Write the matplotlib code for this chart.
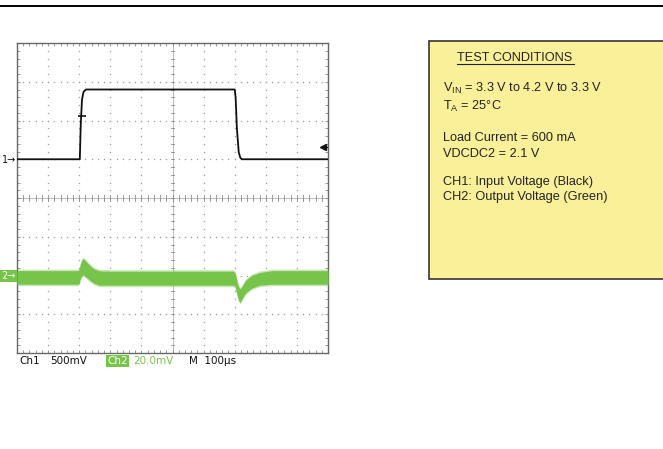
import matplotlib
matplotlib.use("Agg")
import matplotlib.pyplot as plt
from matplotlib.patches import Rectangle
from matplotlib.lines import Line2D
import numpy as np

plt.rcParams['mathtext.fontset'] = 'custom'
plt.rcParams['mathtext.rm'] = 'Liberation Sans'
plt.rcParams['mathtext.it'] = 'Liberation Sans'

# ---------------- data ----------------
# CH1: input voltage step (time in µs, volts)
ch1_time = [0, 202, 205, 209, 214, 222, 700, 703, 707, 713, 718, 723, 1000]
ch1_volt = [3.3, 3.3, 3.75, 4.07, 4.17, 4.2, 4.2, 4.1, 3.7, 3.39, 3.32, 3.3, 3.3]

# CH2: output voltage ripple envelope (time in µs, mV relative to CH2 marker)
ch2_time  = [0, 195, 200, 203, 207, 211, 215, 220, 228, 238, 250, 265, 300,
             695, 701, 706, 712, 717, 722, 735, 755, 780, 820, 1000]
ch2_upper = [2.5, 2.5, 3.0, 5.5, 7.5, 8.5, 8.4, 7.6, 6.2, 4.6, 3.2, 2.4, 2.2,
             2.2, 1.5, -2.0, -5.5, -7.0, -6.0, -2.5, 0.0, 1.5, 2.5, 2.5]
ch2_lower = [-4.5, -4.5, -4.0, -2.0, -0.5, 0.3, 0.2, -0.5, -1.6, -3.0, -4.2, -5.0, -5.0,
             -5.0, -5.5, -9.0, -12.5, -14.0, -12.5, -9.0, -6.5, -5.0, -4.5, -4.5]

# scope settings
ch1_scale = 0.5      # V/div
ch1_offset_v = 3.3   # volts at CH1 marker
ch1_marker_div = 1.0
ch2_scale = 20.0     # mV/div
ch2_marker_div = -2.0
time_per_div = 100   # µs/div
trigger_level_div = 1.32
trigger_time = 209

conditions = [
    r'V$_{\mathrm{IN}}$ = 3.3 V to 4.2 V to 3.3 V',
    r'T$_{\mathrm{A}}$ = 25°C',
    'Load Current = 600 mA',
    'VDCDC2 = 2.1 V',
    'CH1: Input Voltage (Black)',
    'CH2: Output Voltage (Green)',
]

GREEN = '#76c44a'
W, H = 663, 449

fig = plt.figure(figsize=(W / 100, H / 100), dpi=100)
fig.patch.set_facecolor('white')

def fx(px):
    return px / W

def fy(py):
    return 1 - py / H

# header line
fig.add_artist(Line2D([0, 1], [fy(6), fy(6)], color='black', lw=1.4, transform=fig.transFigure))

# ---------------- scope axes ----------------
L, T, R, B = 17, 43, 328, 353
ax = fig.add_axes([fx(L), fy(B), (R - L) / W, (B - T) / H])
ax.set_xlim(0, 10 * time_per_div)
ax.set_ylim(-4, 4)
for s in ax.spines.values():
    s.set_color('#666666')
    s.set_linewidth(1.0)

ax.set_xticks(np.arange(0, 1001, 20))
ax.set_yticks(np.arange(-4, 4.01, 0.2))
ax.tick_params(direction='in', length=2.5, width=0.6, colors='#888888',
               top=True, right=True, labelbottom=False, labelleft=False)

# grid dots
dot_kw = dict(ls='none', marker='s', ms=0.9, color='#9a9a9a', mec='none', zorder=1)
ys = np.arange(-4, 4.01, 0.2)
for gx in range(100, 1000, 100):
    if gx == 500:
        continue
    ax.plot(np.full_like(ys, gx), ys, **dot_kw)
xs = np.arange(0, 1001, 20)
for gy in range(-3, 4):
    if gy == 0:
        continue
    ax.plot(xs, np.full_like(xs, gy, dtype=float), **dot_kw)

# center lines with ticks
ax.axhline(0, color='#b0b0b0', lw=0.6, zorder=1)
ax.axvline(500, color='#b0b0b0', lw=0.6, zorder=1)
for tx in xs:
    ax.plot([tx, tx], [-0.09, 0.09], color='#888888', lw=0.6, zorder=1)
for ty in ys:
    ax.plot([494, 506], [ty, ty], color='#888888', lw=0.6, zorder=1)

# CH2 trace (green band)
c2t = np.array(ch2_time, dtype=float)
up = ch2_marker_div + np.array(ch2_upper) / ch2_scale
lo = ch2_marker_div + np.array(ch2_lower) / ch2_scale
ax.fill_between(c2t, lo - 0.04, up + 0.04, color=GREEN, alpha=0.4, lw=0, zorder=3)
ax.fill_between(c2t, lo, up, color=GREEN, lw=0, zorder=3)

# CH1 trace
c1 = ch1_marker_div + (np.array(ch1_volt) - ch1_offset_v) / ch1_scale
ax.plot(ch1_time, c1, color='#111111', lw=1.3, zorder=4)

# trigger markers
ax.plot([trigger_time], [2.12], marker='_', ms=6, mew=1.2, color='#111111', zorder=5)
ax.plot([985], [trigger_level_div], marker='<', ms=4, color='#111111', zorder=5)
ax.plot([985, 1000], [trigger_level_div, trigger_level_div], color='#111111', lw=0.8, zorder=5)

# channel markers on the left
fig.text(fx(16), fy(160), '1→', ha='right', va='center', fontsize=7, color='#111111',
         family='DejaVu Sans')
fig.text(fx(16), fy(276), '2→', ha='right', va='center', fontsize=7, color='white',
         family='DejaVu Sans',
         bbox=dict(boxstyle='square,pad=0.12', fc=GREEN, ec='none'))

# bottom readout
ro_y = fy(361)
fig.text(fx(19), ro_y, 'Ch1', ha='left', va='center', fontsize=7.5, color='#111111')
fig.text(fx(50), ro_y, '500mV', ha='left', va='center', fontsize=7.5, color='#111111')
fig.text(fx(107), ro_y, 'Ch2', ha='left', va='center', fontsize=7.5, color='white',
         bbox=dict(boxstyle='square,pad=0.1', fc=GREEN, ec='none'))
fig.text(fx(133), ro_y, '20.0mV', ha='left', va='center', fontsize=7.5, color=GREEN)
fig.text(fx(189), ro_y, 'M  100µs', ha='left', va='center', fontsize=7.5, color='#111111')

# ---------------- test conditions box ----------------
fig.add_artist(Rectangle((fx(429), fy(279)), fx(760) - fx(429), fy(41) - fy(279),
                         transform=fig.transFigure, fc='#fbf09a', ec='#333333', lw=1.2))
tfont = dict(family='Liberation Sans', fontsize=9.2, color='#222222', ha='left', va='center')
fig.text(fx(457), fy(58), 'TEST CONDITIONS', **tfont)
fig.add_artist(Line2D([fx(457), fx(574)], [fy(64), fy(64)], color='#222222', lw=0.8,
                      transform=fig.transFigure))
line_y = [88, 106, 138, 154, 182, 197]
for txt, yy in zip(conditions, line_y):
    fig.text(fx(443), fy(yy), txt, **tfont)

fig.savefig('out.png', dpi=100, facecolor='white')
